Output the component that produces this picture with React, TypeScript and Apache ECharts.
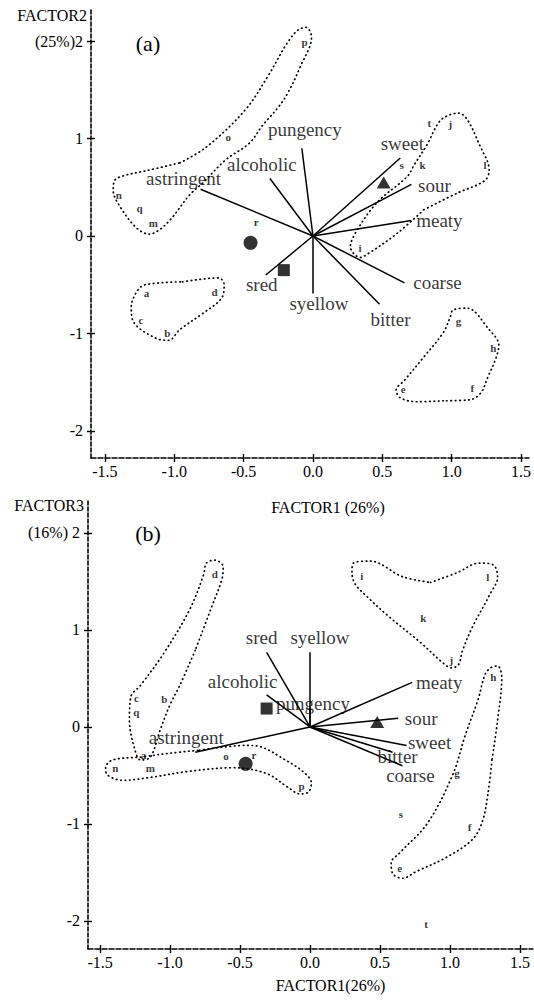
import React, { useEffect, useRef } from "react";
import * as echarts from "echarts";

const FONT = '"Liberation Serif", "Times New Roman", serif';

// ---------- shared tick values ----------
const X_TICKS = [-1.5, -1, -0.5, 0, 0.5, 1, 1.5];
const Y_TICKS = [-2, -1, 0, 1, 2];

// ---------- panel (a): FACTOR1 x FACTOR2 ----------
const SAMPLES_A: [string, number, number][] = [
  ["a", -1.2, -0.58], ["b", -1.05, -0.99], ["c", -1.24, -0.86], ["d", -0.71, -0.57],
  ["e", 0.65, -1.57], ["f", 1.15, -1.56], ["g", 1.05, -0.87], ["h", 1.3, -1.15],
  ["i", 0.34, -0.12], ["j", 0.99, 1.15], ["k", 0.79, 0.73], ["l", 1.24, 0.73],
  ["m", -1.15, 0.13], ["n", -1.4, 0.42], ["o", -0.61, 1.02], ["p", -0.06, 1.99],
  ["q", -1.25, 0.29], ["r", -0.41, 0.14], ["s", 0.64, 0.73], ["t", 0.84, 1.16],
];
const MARKERS_A: [string, number, number][] = [
  ["circle", -0.45, -0.07], ["rect", -0.21, -0.35], ["triangle", 0.51, 0.55],
];
const VECTORS_A: [string, number, number][] = [
  ["astringent", -0.81, 0.48], ["alcoholic", -0.31, 0.59], ["pungency", -0.08, 0.9],
  ["sweet", 0.63, 0.8], ["sour", 0.71, 0.53], ["meaty", 0.71, 0.16],
  ["coarse", 0.66, -0.48], ["bitter", 0.48, -0.7], ["syellow", 0.0, -0.59],
  ["sred", -0.34, -0.4],
];
const HULL_A1 = [
  [-0.96, 0.75], [-0.77, 0.91], [-0.49, 1.29], [-0.32, 1.65], [-0.19, 1.97], [-0.11, 2.11],
  [-0.05, 2.14], [-0.01, 2.04], [-0.09, 1.74], [-0.18, 1.47], [-0.25, 1.32], [-0.36, 1.14],
  [-0.46, 0.95], [-0.63, 0.78], [-0.79, 0.55], [-0.89, 0.42], [-1.02, 0.18], [-1.11, 0.06],
  [-1.18, 0.02], [-1.27, 0.08], [-1.39, 0.3], [-1.44, 0.47], [-1.43, 0.57], [-1.36, 0.62],
  [-1.2, 0.67], [-0.96, 0.75],
];
const HULL_A2 = [
  [-0.94, -0.47], [-0.68, -0.43], [-0.64, -0.5], [-0.66, -0.64], [-0.8, -0.8], [-0.96, -0.96],
  [-1.04, -1.07], [-1.13, -1.05], [-1.29, -0.89], [-1.31, -0.73], [-1.27, -0.57], [-1.21, -0.5],
  [-0.94, -0.47],
];
const HULL_A3 = [
  [0.8, 0.27], [0.61, 0.03], [0.41, -0.17], [0.34, -0.22], [0.27, -0.11], [0.31, 0.04],
  [0.46, 0.34], [0.68, 0.61], [0.73, 0.73], [0.82, 0.93], [0.91, 1.17], [0.98, 1.24],
  [1.05, 1.26], [1.23, 0.85], [1.27, 0.68], [1.24, 0.57], [1.04, 0.44], [0.8, 0.27],
];
const HULL_A4 = [
  [0.94, -1.69], [0.75, -1.7], [0.63, -1.66], [0.6, -1.58], [0.66, -1.48], [0.8, -1.24],
  [0.94, -0.99], [0.99, -0.83], [1.01, -0.76], [1.11, -0.74], [1.27, -0.96], [1.34, -1.12],
  [1.32, -1.25], [1.26, -1.45], [1.21, -1.61], [1.13, -1.68], [0.94, -1.69],
];

// ---------- panel (b): FACTOR1 x FACTOR3 ----------
const SAMPLES_B: [string, number, number][] = [
  ["a", -1.19, -0.29], ["b", -1.04, 0.29], ["c", -1.24, 0.3], ["d", -0.68, 1.58],
  ["e", 0.64, -1.45], ["f", 1.14, -1.03], ["g", 1.05, -0.47], ["h", 1.31, 0.52],
  ["i", 0.37, 1.56], ["j", 1.01, 0.69], ["k", 0.81, 1.12], ["l", 1.27, 1.55],
  ["m", -1.14, -0.42], ["n", -1.39, -0.42], ["o", -0.6, -0.3], ["p", -0.06, -0.61],
  ["q", -1.24, 0.15], ["r", -0.4, -0.29], ["s", 0.65, -0.9], ["t", 0.83, -2.03],
];
const MARKERS_B: [string, number, number][] = [
  ["circle", -0.46, -0.38], ["rect", -0.31, 0.19], ["triangle", 0.48, 0.05],
];
const VECTORS_B: [string, number, number][] = [
  ["sred", -0.31, 0.77], ["syellow", 0.0, 0.77], ["alcoholic", -0.31, 0.33],
  ["pungency", 0.0, 0.2], ["astringent", -0.82, -0.26], ["meaty", 0.73, 0.46],
  ["sour", 0.63, 0.09], ["sweet", 0.69, -0.19], ["bitter", 0.59, -0.26],
  ["coarse", 0.66, -0.4],
];
const HULL_B1 = [
  [-0.82, 0.79], [-0.93, 0.43], [-1.0, 0.23], [-1.07, -0.03], [-1.14, -0.31], [-1.21, -0.34],
  [-1.25, -0.24], [-1.29, 0.07], [-1.28, 0.31], [-1.21, 0.43], [-1.04, 0.77], [-0.86, 1.21],
  [-0.76, 1.57], [-0.74, 1.69], [-0.68, 1.72], [-0.62, 1.65], [-0.63, 1.52], [-0.71, 1.21],
  [-0.82, 0.79],
];
const HULL_B2 = [
  [-0.79, -0.24], [-0.45, -0.19], [-0.34, -0.21], [-0.2, -0.32], [-0.05, -0.46], [0.01, -0.58],
  [-0.01, -0.67], [-0.07, -0.69], [-0.16, -0.62], [-0.31, -0.48], [-0.55, -0.42], [-0.88, -0.46],
  [-1.14, -0.52], [-1.34, -0.55], [-1.45, -0.49], [-1.46, -0.42], [-1.41, -0.34], [-1.21, -0.31],
  [-1.0, -0.27], [-0.79, -0.24],
];
const HULL_B3 = [
  [0.86, 1.49], [1.05, 1.59], [1.21, 1.69], [1.31, 1.67], [1.34, 1.54], [1.29, 1.38],
  [1.16, 1.03], [1.09, 0.79], [1.06, 0.64], [1.01, 0.61], [0.95, 0.66], [0.79, 0.87],
  [0.57, 1.13], [0.41, 1.34], [0.32, 1.48], [0.3, 1.6], [0.31, 1.69], [0.43, 1.71],
  [0.66, 1.55], [0.86, 1.49],
];
const HULL_B4 = [
  [1.3, -0.34], [1.27, -0.7], [1.23, -0.98], [1.16, -1.16], [0.98, -1.34], [0.76, -1.49],
  [0.66, -1.56], [0.59, -1.51], [0.58, -1.4], [0.64, -1.3], [0.84, -0.99], [1.02, -0.49],
  [1.11, -0.08], [1.2, 0.28], [1.25, 0.54], [1.29, 0.61], [1.34, 0.63], [1.37, 0.51],
  [1.34, 0.07], [1.3, -0.34],
];

// ---------- layout (pixel label offsets, not data) ----------
const LABEL_OFFSET_A: Record<string, [number, number]> = {
  astringent: [-17, -11], alcoholic: [-8, -14], pungency: [3, -19], sweet: [2, -15],
  sour: [23, 1], meaty: [28, 0], coarse: [33, 0], bitter: [11, 15], syellow: [6, 10], sred: [-4, 10],
};
const LABEL_OFFSET_B: Record<string, [number, number]> = {
  sred: [-5, -15], syellow: [10, -15], alcoholic: [-24, -13], pungency: [3, -4],
  astringent: [-9, -15], meaty: [27, 0], sour: [23, 0], sweet: [23, -3], bitter: [5, 4], coarse: [8, 10],
};

const BLACK = "#000";

function mainX(gridIndex: number, min: number, max: number, name: string, nameGap: number, pad: number) {
  return {
    type: "value", gridIndex, min, max, position: "bottom",
    name, nameLocation: "middle", nameGap,
    nameTextStyle: { fontFamily: FONT, fontSize: 16, color: BLACK, padding: [0, 0, 0, pad] },
    axisLine: { show: true, onZero: false, lineStyle: { color: BLACK, width: 1.6, type: [5, 2] } },
    axisTick: { show: true, inside: false, length: 4, customValues: X_TICKS, lineStyle: { color: BLACK, width: 1.4 } },
    axisLabel: {
      show: true, customValues: X_TICKS, margin: 5, fontFamily: FONT, fontSize: 16, color: BLACK,
      formatter: (v: number) => v.toFixed(1),
    },
    splitLine: { show: false },
  };
}
function tickX(gridIndex: number, min: number, max: number) {
  return {
    type: "value", gridIndex, min, max, position: "bottom",
    axisLine: { show: false, onZero: false },
    axisTick: { show: true, inside: true, length: 4, customValues: X_TICKS, lineStyle: { color: BLACK, width: 1.4 } },
    axisLabel: { show: false },
    splitLine: { show: false },
  };
}
function mainY(gridIndex: number, min: number, max: number, name: string, topLabel: string) {
  return {
    type: "value", gridIndex, min, max, position: "left",
    name, nameLocation: "end", nameGap: -5,
    nameTextStyle: { fontFamily: FONT, fontSize: 16, color: BLACK, align: "right", verticalAlign: "middle", padding: [0, 4, 0, 0] },
    axisLine: { show: true, onZero: false, lineStyle: { color: BLACK, width: 1.6, type: [4, 2] } },
    axisTick: { show: true, inside: false, length: 4, customValues: Y_TICKS, lineStyle: { color: BLACK, width: 1.4 } },
    axisLabel: {
      show: true, customValues: Y_TICKS, margin: 8, fontFamily: FONT, fontSize: 16, color: BLACK,
      formatter: (v: number) => (v === 2 ? topLabel : String(v)),
    },
    splitLine: { show: false },
  };
}
function tickY(gridIndex: number, min: number, max: number) {
  return {
    type: "value", gridIndex, min, max, position: "left",
    axisLine: { show: false, onZero: false },
    axisTick: { show: true, inside: true, length: 4, customValues: Y_TICKS, lineStyle: { color: BLACK, width: 1.4 } },
    axisLabel: { show: false },
    splitLine: { show: false },
  };
}

function panelSeries(
  axisIndex: number,
  samples: [string, number, number][],
  markers: [string, number, number][],
  vectors: [string, number, number][],
  hulls: number[][][],
  offsets: Record<string, [number, number]>,
) {
  const base = { xAxisIndex: axisIndex, yAxisIndex: axisIndex, silent: true };
  const out: any[] = [];
  hulls.forEach((h) => {
    out.push({
      ...base, type: "line", data: h, smooth: 0.35, symbol: "none",
      lineStyle: { color: BLACK, width: 1.7, type: [0.6, 3.8], cap: "round" },
    });
  });
  out.push({
    ...base, type: "lines", coordinateSystem: "cartesian2d",
    data: vectors.map(([, x, y]) => ({ coords: [[0, 0], [x, y]] })),
    lineStyle: { color: BLACK, width: 1.5, opacity: 1 },
  });
  out.push({
    ...base, type: "scatter", symbolSize: 1, itemStyle: { color: "transparent" },
    data: vectors.map(([n, x, y]) => ({
      name: n, value: [x, y],
      label: { offset: offsets[n] || [0, 0] },
    })),
    label: { show: true, position: "inside", formatter: "{b}", fontFamily: FONT, fontSize: 19, color: BLACK },
  });
  out.push({
    ...base, type: "scatter", symbolSize: 1, itemStyle: { color: "transparent" },
    data: samples.map(([n, x, y]) => ({ name: n, value: [x, y] })),
    label: { show: true, position: "inside", formatter: "{b}", fontFamily: FONT, fontSize: 11, fontWeight: "bold", color: BLACK },
  });
  markers.forEach(([sym, x, y]) => {
    out.push({
      ...base, type: "scatter", symbol: sym,
      symbolSize: sym === "circle" ? 14 : sym === "rect" ? 12 : [14, 12],
      itemStyle: { color: BLACK },
      data: [[x, y]],
    });
  });
  return out;
}

export default function App() {
  const ref = useRef<HTMLDivElement>(null);
  useEffect(() => {
    document.body.style.margin = "0";
    if (!ref.current) return;
    const chart = echarts.init(ref.current, undefined, { renderer: "svg" });
    const AX = [-1.6, 1.557], AY = [-2.277, 2.318];
    const BX = [-1.586, 1.593], BY = [-2.289, 2.34];
    const option: any = {
      animation: false,
      backgroundColor: "#fff",
      grid: [
        { left: 91, top: 10, width: 442, height: 448 },
        { left: 88, top: 500, width: 445, height: 449 },
      ],
      xAxis: [
        mainX(0, AX[0], AX[1], "FACTOR1 (26%)", 41, 36),
        tickX(0, AX[0], AX[1]),
        mainX(1, BX[0], BX[1], "FACTOR1(26%)", 28, 40),
        tickX(1, BX[0], BX[1]),
      ],
      yAxis: [
        mainY(0, AY[0], AY[1], "FACTOR2", "(25%)2"),
        tickY(0, AY[0], AY[1]),
        mainY(1, BY[0], BY[1], "FACTOR3", "(16%) 2"),
        tickY(1, BY[0], BY[1]),
      ],
      series: [
        ...panelSeries(0, SAMPLES_A, MARKERS_A, VECTORS_A, [HULL_A1, HULL_A2, HULL_A3, HULL_A4], LABEL_OFFSET_A),
        ...panelSeries(2, SAMPLES_B, MARKERS_B, VECTORS_B, [HULL_B1, HULL_B2, HULL_B3, HULL_B4], LABEL_OFFSET_B),
      ],
      graphic: [
        { type: "text", x: 148, y: 43, style: { text: "(a)", fontFamily: FONT, fontSize: 22, fill: BLACK, align: "center", verticalAlign: "middle" } },
        { type: "text", x: 148, y: 533, style: { text: "(b)", fontFamily: FONT, fontSize: 22, fill: BLACK, align: "center", verticalAlign: "middle" } },
      ],
    };
    chart.setOption(option);
    return () => chart.dispose();
  }, []);
  return <div ref={ref} style={{ position: "absolute", left: 0, top: 0, width: 534, height: 1001 }} />;
}
